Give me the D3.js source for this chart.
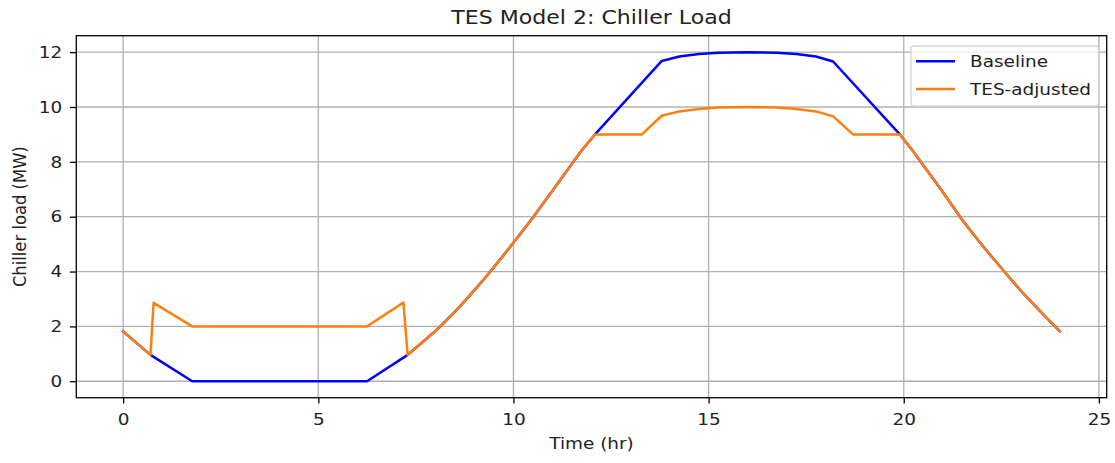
<!DOCTYPE html>
<html>
<head>
<meta charset="utf-8">
<script src="https://cdn.jsdelivr.net/npm/d3@7"></script>
<style>
  body { margin: 0; background: #fff; }
  svg { display: block; font-family: "DejaVu Sans", sans-serif; }
</style>
</head>
<body>
<svg id="chart" width="1115" height="463"></svg>
<script>
// ---- data ----
const titleText = "TES Model 2: Chiller Load";
const xLabel = "Time (hr)";
const yLabel = "Chiller load (MW)";
const seriesNames = ["Baseline", "TES-adjusted"];
const seriesColors = ["#0000ff", "#ff7f0e"];

const baselineHours = [0, 0.70, 1.77, 6.25, 7.29, 7.5, 7.75, 8.0, 8.25, 8.5, 8.75, 9.0, 9.25, 9.5, 9.75,
  10.0, 10.25, 10.5, 10.75, 11.0, 11.25, 11.5, 11.75, 12.09,
  13.8, 14.25, 14.75, 15.25, 16.0, 16.75, 17.25, 17.75, 18.19,
  19.9, 20.25, 20.5, 20.75, 21.0, 21.25, 21.5, 21.75, 22.0, 22.25, 22.5, 22.75, 23.0, 23.25, 23.5, 23.75, 24.0];
const baselineLoad = [1.82, 0.96, 0, 0, 0.96, 1.22, 1.52, 1.83, 2.17, 2.53, 2.92, 3.32, 3.73, 4.16, 4.6,
  5.05, 5.51, 5.97, 6.46, 6.95, 7.44, 7.93, 8.42, 9.0,
  11.68, 11.84, 11.93, 11.98, 12.0, 11.98, 11.93, 11.84, 11.66,
  9.0, 8.37, 7.88, 7.39, 6.9, 6.39, 5.88, 5.42, 4.98, 4.55, 4.13, 3.71, 3.3, 2.92, 2.55, 2.18, 1.82];

const tesHours = [0, 0.70, 0.78, 1.77, 6.25, 7.18, 7.29, 7.5, 7.75, 8.0, 8.25, 8.5, 8.75, 9.0, 9.25, 9.5, 9.75,
  10.0, 10.25, 10.5, 10.75, 11.0, 11.25, 11.5, 11.75, 12.09,
  13.29, 13.8, 14.25, 14.75, 15.25, 16.0, 16.75, 17.25, 17.75, 18.19, 18.7,
  19.9, 20.25, 20.5, 20.75, 21.0, 21.25, 21.5, 21.75, 22.0, 22.25, 22.5, 22.75, 23.0, 23.25, 23.5, 23.75, 24.0];
const tesLoad = [1.82, 0.96, 2.86, 2.0, 2.0, 2.87, 0.96, 1.22, 1.52, 1.83, 2.17, 2.53, 2.92, 3.32, 3.73, 4.16, 4.6,
  5.05, 5.51, 5.97, 6.46, 6.95, 7.44, 7.93, 8.42, 9.0,
  9.0, 9.68, 9.84, 9.93, 9.98, 10.0, 9.98, 9.93, 9.84, 9.66, 9.0,
  9.0, 8.37, 7.88, 7.39, 6.9, 6.39, 5.88, 5.42, 4.98, 4.55, 4.13, 3.71, 3.3, 2.92, 2.55, 2.18, 1.82];

const xTicks = [0, 5, 10, 15, 20, 25];
const yTicks = [0, 2, 4, 6, 8, 10, 12];
const xDomain = [-1.2, 25.2];
const yDomain = [-0.6, 12.6];

// ---- layout ----
const svg = d3.select("#chart");
const plot = { left: 76.3, right: 1106.7, top: 35.7, bottom: 397.7 };
const x = d3.scaleLinear().domain(xDomain).range([plot.left, plot.right]);
const y = d3.scaleLinear().domain(yDomain).range([plot.bottom, plot.top]);
const tickFont = 16.4;
const sx = 1.125; // horizontal stretch of the reference's text

function stretch(sel) {
  sel.each(function () {
    const t = d3.select(this);
    const tx = +t.attr("x") || 0, ty = +t.attr("y") || 0;
    t.attr("x", 0).attr("y", 0).attr("transform", `translate(${tx},${ty}) scale(${sx},1)`);
  });
}

// grid
const grid = svg.append("g");
grid.selectAll("line.gx").data(xTicks).join("line")
  .attr("x1", d => x(d)).attr("x2", d => x(d))
  .attr("y1", plot.top).attr("y2", plot.bottom)
  .attr("stroke", "#b0b0b0").attr("stroke-width", 1.3);
grid.selectAll("line.gy").data(yTicks).join("line")
  .attr("y1", d => y(d)).attr("y2", d => y(d))
  .attr("x1", plot.left).attr("x2", plot.right)
  .attr("stroke", "#b0b0b0").attr("stroke-width", 1.3);

// lines
const line = d3.line().x(d => x(d[0])).y(d => y(d[1]));
const series = [
  d3.zip(baselineHours, baselineLoad),
  d3.zip(tesHours, tesLoad)
];
series.forEach((s, i) => {
  svg.append("path").datum(s)
    .attr("d", line)
    .attr("fill", "none")
    .attr("stroke", seriesColors[i])
    .attr("stroke-width", 2.5)
    .attr("stroke-linejoin", "round")
    .attr("stroke-linecap", "square");
});

// axes
const xAxis = svg.append("g")
  .attr("transform", `translate(0,${plot.bottom})`)
  .call(d3.axisBottom(x).tickValues(xTicks).tickFormat(d3.format("d")).tickSize(5.8).tickPadding(10));
const yAxis = svg.append("g")
  .attr("transform", `translate(${plot.left},0)`)
  .call(d3.axisLeft(y).tickValues(yTicks).tickFormat(d3.format("d")).tickSize(6.4).tickPadding(7.6));
[xAxis, yAxis].forEach(a => {
  a.select(".domain").remove();
  a.selectAll(".tick line").attr("stroke", "#000").attr("stroke-width", 1.3);
  a.selectAll(".tick text").attr("fill", "#222").style("font-size", tickFont + "px")
    .style("font-family", "'DejaVu Sans', sans-serif");
  stretch(a.selectAll(".tick text"));
});

// frame
svg.append("rect")
  .attr("x", plot.left).attr("y", plot.top)
  .attr("width", plot.right - plot.left).attr("height", plot.bottom - plot.top)
  .attr("fill", "none").attr("stroke", "#000").attr("stroke-width", 1.3);

// title and labels
svg.append("text").attr("x", (plot.left + plot.right) / 2).attr("y", 24)
  .attr("text-anchor", "middle").style("font-size", "19.6px").attr("fill", "#222").text(titleText)
  .call(stretch);
svg.append("text").attr("x", (plot.left + plot.right) / 2).attr("y", 449)
  .attr("text-anchor", "middle").style("font-size", tickFont + "px").attr("fill", "#222").text(xLabel)
  .call(stretch);
svg.append("text").attr("transform", `translate(26,${(plot.top + plot.bottom) / 2}) scale(${sx},1) rotate(-90)`)
  .attr("text-anchor", "middle").style("font-size", tickFont + "px").attr("fill", "#222").text(yLabel);

// legend
const lg = svg.append("g");
lg.append("rect").attr("x", 911).attr("y", 46).attr("width", 187.5).attr("height", 60)
  .attr("rx", 3).attr("fill", "#fff").attr("fill-opacity", 0.8)
  .attr("stroke", "#d5d5d5").attr("stroke-width", 1.3);
seriesNames.forEach((name, i) => {
  const cy = 61.3 + i * 27.7;
  lg.append("line").attr("x1", 916).attr("x2", 955).attr("y1", cy).attr("y2", cy)
    .attr("stroke", seriesColors[i]).attr("stroke-width", 2.5);
  lg.append("text").attr("x", 970).attr("y", cy).attr("dy", "0.35em")
    .style("font-size", tickFont + "px").attr("fill", "#222").text(name)
    .call(stretch);
});
</script>
</body>
</html>
